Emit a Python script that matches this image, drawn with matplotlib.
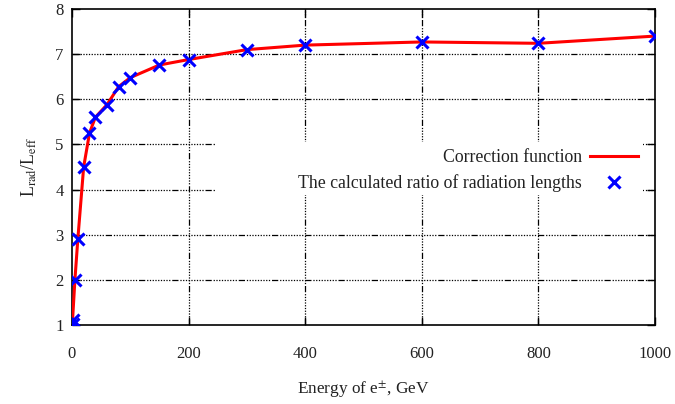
import matplotlib
matplotlib.use("Agg")
import matplotlib.pyplot as plt
from matplotlib.patches import Rectangle

energy = [1, 1, 5, 10, 20, 30, 40, 60, 80, 100, 150, 200, 300, 400, 600, 800, 1000]
ratio = [1.03, 1.12, 2.0, 2.9, 4.5, 5.25, 5.6, 5.88, 6.28, 6.48, 6.76, 6.88, 7.1, 7.2, 7.27, 7.24, 7.4]
xticks = [0, 200, 400, 600, 800, 1000]
yticks = [1, 2, 3, 4, 5, 6, 7, 8]

plt.rcParams['font.family'] = ['Liberation Serif', 'DejaVu Serif']
plt.rcParams['mathtext.fontset'] = 'stix'

fig = plt.figure(figsize=(6.75, 4.04), dpi=100)
ax = fig.add_axes([72/675, 1-325/404, (655-72)/675, (325-9)/404])

grid_style = (0, (5, 1.5, 1, 1.2, 1, 1.2, 1, 1.2, 1, 1.2, 1, 1.2, 1, 1.2, 1, 1.2, 1, 1.2, 1, 1.5))
for yv in yticks[1:-1]:
    ax.axhline(yv, color='black', lw=0.9, linestyle=grid_style, zorder=1)
for xv in xticks[1:-1]:
    ax.axvline(xv, color='black', lw=0.9, linestyle=grid_style, zorder=1)

ax.add_patch(Rectangle((0.245, 0.41), 0.734, 0.17, transform=ax.transAxes,
                       facecolor='white', edgecolor='none', zorder=1.5))

ax.plot(energy, ratio, color='red', lw=2.2, zorder=3, label='Correction function')
ax.plot(energy, ratio, linestyle='none', marker='x', color='blue', ms=8, mew=2.2,
        zorder=4, label='The calculated ratio of radiation lengths')

ax.set_xlim(0, 1000)
ax.set_ylim(1, 8)
ax.set_xticks(xticks)
ax.set_yticks(yticks)
ax.tick_params(direction='in', top=True, right=True, length=6, width=1.0,
               labelsize=12, colors='black', labelcolor='#222222')
ax.tick_params(axis='x', pad=15)
ax.tick_params(axis='y', pad=6)
for s in ax.spines.values():
    s.set_linewidth(1.2)

ax.set_xlabel(r'Energy of e$^{\pm}$, GeV', fontsize=12.4, labelpad=12, color='#222222')
ax.set_ylabel(r'L$_{\rm rad}$/L$_{\rm eff}$', fontsize=12.8, labelpad=12, color='#222222')

leg = ax.legend(loc='center right', bbox_to_anchor=(0.986, 0.488), markerfirst=False,
                frameon=False, fontsize=12.8, handlelength=2.7, handletextpad=0.45,
                labelspacing=0.45, borderpad=0)
for t in leg.get_texts():
    t.set_color('#222222')

fig.savefig('out.png', dpi=100)
